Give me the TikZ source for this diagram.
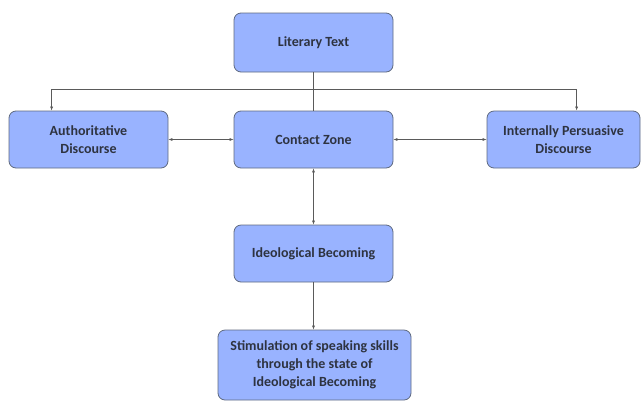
\documentclass[tikz,border=0pt]{standalone}
\usepackage{fontspec}
\setmainfont{Carlito}
\usetikzlibrary{arrows.meta,positioning}
\definecolor{boxfill}{HTML}{99B3FF}
\definecolor{boxline}{HTML}{5F6A80}
\definecolor{boxtext}{HTML}{2E3340}
\definecolor{linkgray}{HTML}{5A5A5A}

\begin{document}
\begin{tikzpicture}[x=1pt,y=-1pt,
  box/.style={draw=boxline,fill=boxfill,rounded corners=7pt,line width=0.8pt,
    minimum width=159pt,minimum height=57pt,align=center,text=boxtext,
    font=\fontsize{14}{18}\selectfont\bfseries},
  link/.style={draw=linkgray,line width=0.6pt},
  tip/.style={-{Latex[length=4pt,width=3pt]}},
  both/.style={{Latex[length=4pt,width=3pt]}-{Latex[length=4pt,width=3pt]}}]
  \useasboundingbox (0,0) rectangle (642,408);
  % boxes
  \node[box,minimum height=59pt] (lit) at (313.5,42.5) {Literary Text};
  \node[box] (auth) at (88.5,139.5) {Authoritative\\Discourse};
  \node[box] (cz) at (313.5,139.5) {Contact Zone};
  \node[box,minimum width=153pt] (ipd) at (563.5,139.5) {Internally Persuasive\\Discourse};
  \node[box] (ib) at (313.5,253.5) {Ideological Becoming};
  \node[box,minimum width=193pt,minimum height=70pt] (stim) at (314.5,365) {Stimulation of speaking skills\\through the state of\\Ideological Becoming};
  % connectors
  \coordinate (split) at (313.5,89);
  \draw[link] (lit.south) -- (cz.north);
  \draw[link,tip] (split) -| ([xshift=43pt]auth.north west);
  \draw[link,tip] (split) -| ([xshift=90pt]ipd.north west);
  \draw[link,both] (auth.east) -- (cz.west);
  \draw[link,both] (cz.east) -- (ipd.west);
  \draw[link,both] (cz.south) -- (ib.north);
  \draw[link,tip] (ib.south) -- (ib.south |- stim.north);
\end{tikzpicture}
\end{document}
